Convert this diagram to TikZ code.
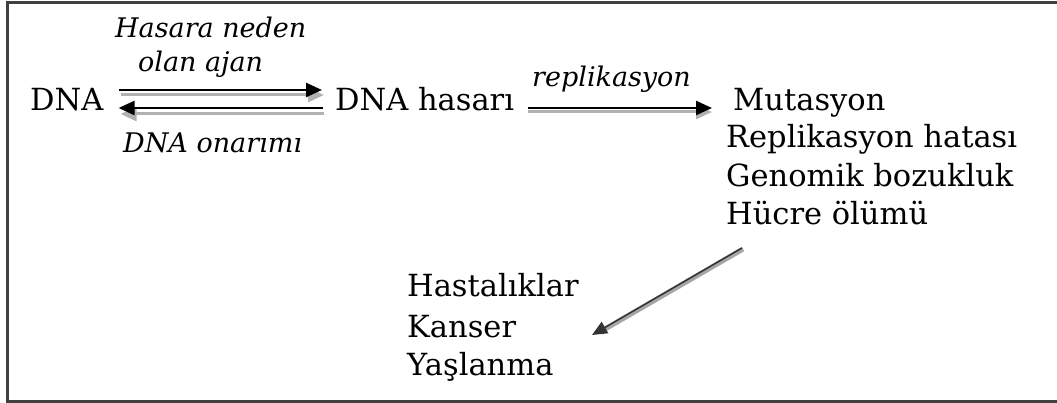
\documentclass[tikz,border=0pt]{standalone}
\usepackage{fontspec}
\setmainfont{DejaVu Serif}
\usetikzlibrary{positioning,arrows.meta}
\tikzset{
  txt/.style={anchor=base west, inner sep=0pt, font=\fontsize{30.5}{34}\selectfont},
  lbl/.style={anchor=base west, inner sep=0pt, font=\fontsize{27}{30}\selectfont\itshape},
  arr/.style={line width=2.5pt, -{Triangle[length=16pt,width=14pt]}},
  shad/.style={arr, draw=black!30, fill=black!30, line width=3pt},
}

\begin{document}
\begin{tikzpicture}[x=1pt,y=-1pt]
    \useasboundingbox (0,0) rectangle (1057,403);
    \draw[line width=3pt, black!75] (7,3) rectangle (1070,401);

    \node[txt] (dna) at (30,111) {DNA};
    \node[txt] (has) at (335,111) {DNA hasarı};

    \node[txt] (mut) at (733,111) {Mutasyon};
    \node[txt] (rep) at (726,148) {Replikasyon hatası};
    \node[txt] (gen) at (726,187) {Genomik bozukluk};
    \node[txt] (huc) at (726,225) {Hücre ölümü};

    \node[txt] (hst) at (407,297) {Hastalıklar};
    \node[txt] (kan) at (407,337) {Kanser};
    \node[txt] (yas) at (407,375) {Yaşlanma};

    \node[lbl] (ajan1) at (115,38) {Hasara neden};
    \node[lbl] (ajan2) at (138,72) {olan ajan};
    \node[lbl] (onar) at (123,153) {DNA onarımı};
    \node[lbl] (repl) at (532,87) {replikasyon};

    % DNA -> hasar
    \draw[shad] ([xshift=17pt,yshift=16pt]dna.base east) -- ([xshift=-11pt,yshift=16pt]has.base west);
    \draw[arr] ([xshift=15pt,yshift=21pt]dna.base east) -- ([xshift=-13pt,yshift=21pt]has.base west);

    % onarim
    \draw[shad] ([xshift=-11pt,yshift=-3pt]has.base west) -- ([xshift=17pt,yshift=-3pt]dna.base east);
    \draw[arr] ([xshift=-12pt,yshift=3pt]has.base west) -- ([xshift=15pt,yshift=3pt]dna.base east);

    % replikasyon
    \draw[shad] ([xshift=14pt,yshift=-1pt]has.base east) -- ([xshift=-21pt,yshift=-1pt]mut.base west);
    \draw[arr] ([xshift=14pt,yshift=3pt]has.base east) -- ([xshift=-21pt,yshift=3pt]mut.base west);

    % sonuclar
    \draw[line width=5pt, black!35, shorten >=10pt] ([xshift=17pt,yshift=-24pt]huc.base west) -- ([xshift=186pt,yshift=1pt]kan.base west);
    \draw[line width=1.5pt, black!80, -{Triangle[length=15pt,width=13pt]}] ([xshift=16pt,yshift=-23pt]huc.base west) -- ([xshift=185pt,yshift=2pt]kan.base west);
\end{tikzpicture}
\end{document}
